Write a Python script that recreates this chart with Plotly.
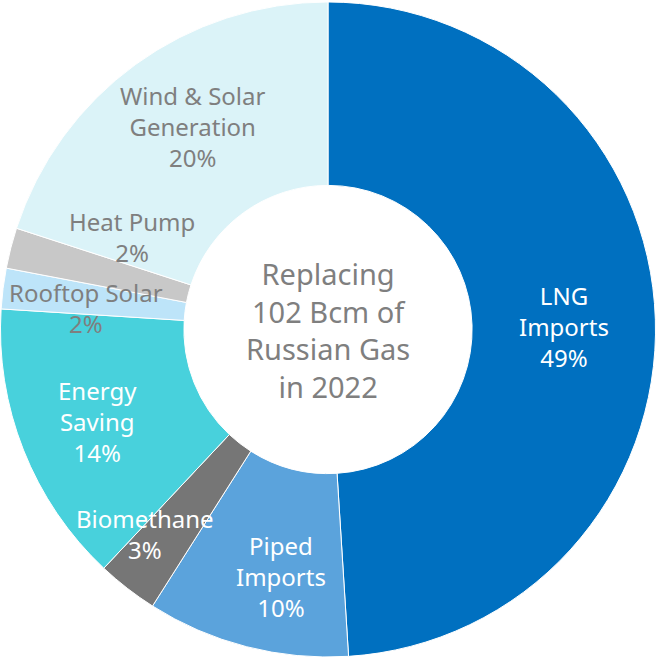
import numpy as np
import plotly.graph_objects as go

# ── data ───────────────────────────────────────────────────────────────────────
labels = ["LNG<br>Imports", "Piped<br>Imports", "Biomethane", "Energy<br>Saving",
          "Rooftop Solar", "Heat Pump", "Wind & Solar<br>Generation"]
shares = [49, 10, 3, 14, 2, 2, 20]
colors = ["#0070C0", "#5BA3DC", "#767676", "#48D1DC",
          "#BDE4F9", "#C8C8C8", "#DBF3F8"]
text_colors = ["white", "white", "white", "white", "#7F7F7F", "#7F7F7F", "#7F7F7F"]
center_text = "Replacing<br>102 Bcm of<br>Russian Gas<br>in 2022"

# label placement tweaks (radius as fraction of outer radius, angle nudge in deg)
label_r = [0.72, 0.765, 0.835, 0.755, 0.74, 0.66, 0.745]
label_nudge = [1, -3.5, 4, 0, -2, 11, 2.5]

W, H = 656, 657
FONT = "Noto Sans"

fig = go.Figure(go.Pie(
    values=shares,
    labels=labels,
    marker=dict(colors=colors, line=dict(color="white", width=1)),
    hole=0.44,
    sort=False,
    direction="clockwise",
    rotation=0,
    textinfo="none",
    hoverinfo="label+percent",
    domain=dict(x=[0, 1], y=[0, 0.997]),
))

# labels at the mid-angle of each slice
cum = np.cumsum([0] + shares)
total = cum[-1]
R = min(W, H) / 2
cx, cy = W / 2, H / 2 - 1.5
annotations = []
for i, lab in enumerate(labels):
    mid = np.radians((cum[i] + cum[i + 1]) / 2 / total * 360 + label_nudge[i])
    r = label_r[i] * R
    x = cx + r * np.sin(mid)
    y = cy + r * np.cos(mid)
    annotations.append(dict(
        x=x / W, y=y / H, xref="paper", yref="paper",
        xanchor="center", yanchor="middle",
        text=f"{lab}<br>{shares[i]}%", showarrow=False,
        font=dict(family=FONT, size=24, color=text_colors[i]),
        align="center",
    ))

annotations.append(dict(
    x=0.5, y=cy / H, xref="paper", yref="paper", xanchor="center", yanchor="middle",
    text=center_text, showarrow=False,
    font=dict(family=FONT, size=29, color="#7F7F7F"),
    align="center",
))

fig.update_layout(
    width=W, height=H,
    margin=dict(l=0, r=0, t=0, b=0),
    paper_bgcolor="white",
    showlegend=False,
    annotations=annotations,
)

fig.write_html("out.html", config={"displayModeBar": False},
               post_script="document.body.style.margin='0';")
